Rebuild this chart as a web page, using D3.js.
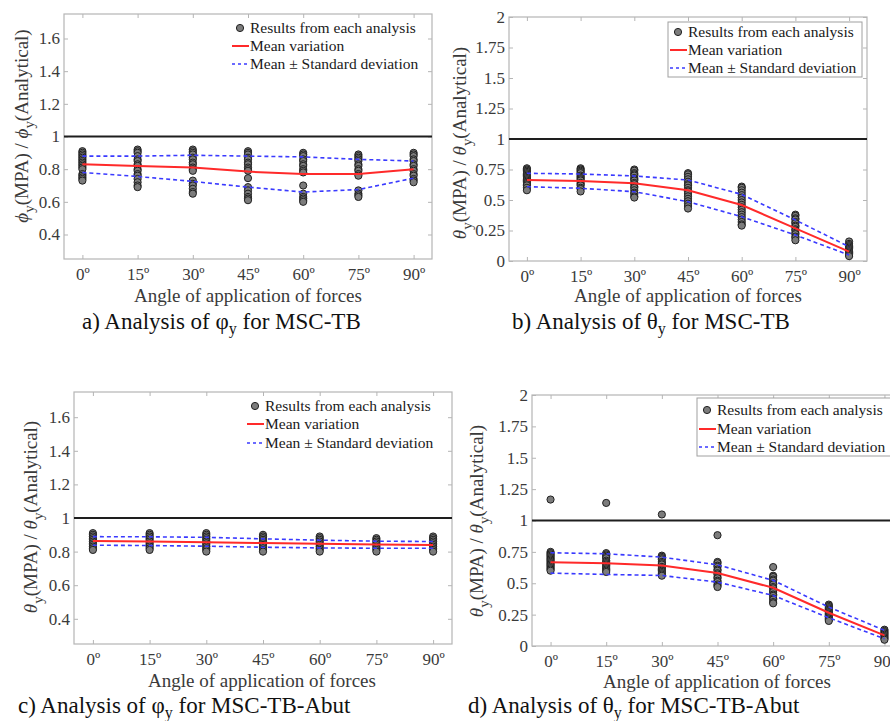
<!DOCTYPE html>
<html>
<head>
<meta charset="utf-8">
<script src="https://cdn.jsdelivr.net/npm/d3@7"></script>
<style>
  body { margin: 0; background: #fff; }
  svg { display: block; }
  svg text { font-family: "Liberation Serif", Tinos, "DejaVu Serif", "Times New Roman", Times, serif !important; }
</style>
</head>
<body>
<svg id="vis" width="890" height="721"></svg>
<script>
// angles of application of forces
const angles = [0, 15, 30, 45, 60, 75, 90];
const angleLabels = ['0º', '15º', '30º', '45º', '60º', '75º', '90º'];
const ticksPhi = [0.4, 0.6, 0.8, 1, 1.2, 1.4, 1.6];
const ticksTheta = [0, 0.25, 0.5, 0.75, 1, 1.25, 1.5, 1.75, 2];

// a) phi_y, MSC-TB
const aPoints = [
    [0.91, 0.90, 0.89, 0.88, 0.87, 0.86, 0.85, 0.84, 0.83, 0.82, 0.81, 0.80, 0.77, 0.76, 0.75, 0.74, 0.73],
    [0.92, 0.91, 0.90, 0.88, 0.86, 0.85, 0.83, 0.82, 0.80, 0.79, 0.77, 0.76, 0.74, 0.72, 0.70, 0.69],
    [0.92, 0.91, 0.90, 0.89, 0.87, 0.86, 0.84, 0.83, 0.81, 0.80, 0.79, 0.73, 0.71, 0.70, 0.68, 0.66, 0.65],
    [0.91, 0.90, 0.89, 0.87, 0.86, 0.84, 0.83, 0.81, 0.80, 0.79, 0.745, 0.69, 0.67, 0.65, 0.63, 0.62, 0.61],
    [0.90, 0.89, 0.88, 0.86, 0.85, 0.83, 0.82, 0.80, 0.79, 0.78, 0.70, 0.65, 0.63, 0.62, 0.61, 0.60],
    [0.89, 0.88, 0.87, 0.86, 0.85, 0.83, 0.82, 0.80, 0.79, 0.77, 0.76, 0.67, 0.65, 0.64, 0.63],
    [0.90, 0.89, 0.88, 0.86, 0.85, 0.83, 0.82, 0.80, 0.79, 0.77, 0.76, 0.74, 0.73, 0.72]
];
const aMean = [0.83, 0.82, 0.81, 0.785, 0.77, 0.77, 0.80];
const aUpper = [0.88, 0.88, 0.885, 0.88, 0.875, 0.86, 0.85];
const aLower = [0.78, 0.755, 0.725, 0.69, 0.66, 0.675, 0.745];

// b) theta_y, MSC-TB
const bPoints = [
    [0.76, 0.75, 0.74, 0.73, 0.72, 0.71, 0.70, 0.69, 0.68, 0.67, 0.66, 0.65, 0.64, 0.63, 0.62, 0.60, 0.58],
    [0.76, 0.75, 0.74, 0.73, 0.72, 0.70, 0.69, 0.68, 0.67, 0.66, 0.64, 0.63, 0.62, 0.60, 0.59, 0.57],
    [0.75, 0.74, 0.72, 0.71, 0.70, 0.68, 0.67, 0.66, 0.64, 0.63, 0.61, 0.60, 0.58, 0.56, 0.55, 0.53, 0.52],
    [0.72, 0.71, 0.69, 0.67, 0.65, 0.63, 0.62, 0.60, 0.58, 0.57, 0.55, 0.53, 0.51, 0.49, 0.47, 0.45, 0.43],
    [0.61, 0.60, 0.58, 0.56, 0.54, 0.52, 0.50, 0.48, 0.46, 0.44, 0.42, 0.40, 0.38, 0.36, 0.34, 0.32, 0.30, 0.29],
    [0.38, 0.37, 0.35, 0.34, 0.32, 0.31, 0.29, 0.28, 0.26, 0.25, 0.23, 0.22, 0.20, 0.19, 0.17],
    [0.16, 0.14, 0.13, 0.12, 0.11, 0.10, 0.09, 0.08, 0.07, 0.06, 0.05, 0.04]
];
const bMean = [0.664, 0.656, 0.637, 0.58, 0.459, 0.268, 0.077];
const bUpper = [0.719, 0.713, 0.697, 0.664, 0.546, 0.336, 0.117];
const bLower = [0.609, 0.596, 0.568, 0.486, 0.363, 0.213, 0.049];

// c) phi_y, MSC-TB-Abut
const cPoints = [
    [0.91, 0.90, 0.89, 0.88, 0.87, 0.86, 0.85, 0.84, 0.83, 0.82, 0.81],
    [0.91, 0.90, 0.89, 0.88, 0.87, 0.86, 0.85, 0.84, 0.83, 0.82, 0.81],
    [0.91, 0.90, 0.89, 0.88, 0.87, 0.86, 0.85, 0.84, 0.83, 0.82, 0.81, 0.80],
    [0.90, 0.89, 0.88, 0.87, 0.86, 0.85, 0.84, 0.83, 0.82, 0.81, 0.80],
    [0.89, 0.88, 0.87, 0.86, 0.85, 0.84, 0.83, 0.82, 0.81, 0.80],
    [0.88, 0.87, 0.86, 0.85, 0.84, 0.83, 0.82, 0.81, 0.80],
    [0.89, 0.88, 0.87, 0.86, 0.85, 0.84, 0.83, 0.82, 0.81, 0.80]
];
const cMean = [0.863, 0.86, 0.856, 0.851, 0.846, 0.842, 0.84];
const cUpper = [0.889, 0.888, 0.885, 0.876, 0.868, 0.862, 0.86];
const cLower = [0.838, 0.836, 0.832, 0.826, 0.822, 0.82, 0.82];

// d) theta_y, MSC-TB-Abut
const dPoints = [
    [1.167, 0.75, 0.74, 0.73, 0.72, 0.71, 0.70, 0.69, 0.68, 0.67, 0.66, 0.65, 0.64, 0.63, 0.62, 0.61, 0.60],
    [1.14, 0.74, 0.73, 0.72, 0.71, 0.70, 0.68, 0.67, 0.66, 0.65, 0.64, 0.63, 0.62, 0.61, 0.60, 0.59],
    [1.048, 0.72, 0.71, 0.70, 0.69, 0.67, 0.66, 0.65, 0.63, 0.62, 0.61, 0.60, 0.59, 0.58, 0.57, 0.56],
    [0.883, 0.67, 0.66, 0.64, 0.63, 0.61, 0.60, 0.58, 0.57, 0.55, 0.54, 0.52, 0.51, 0.49, 0.48, 0.47],
    [0.629, 0.56, 0.55, 0.53, 0.52, 0.50, 0.49, 0.47, 0.46, 0.44, 0.43, 0.41, 0.40, 0.38, 0.37, 0.35, 0.34],
    [0.33, 0.32, 0.31, 0.30, 0.29, 0.28, 0.27, 0.26, 0.25, 0.24, 0.23, 0.22, 0.21, 0.20],
    [0.13, 0.12, 0.11, 0.10, 0.09, 0.08, 0.07, 0.06, 0.05]
];
const dMean = [0.668, 0.66, 0.642, 0.581, 0.464, 0.265, 0.085];
const dUpper = [0.743, 0.735, 0.708, 0.647, 0.523, 0.31, 0.125];
const dLower = [0.581, 0.57, 0.562, 0.509, 0.403, 0.225, 0.058];

const legendLabels = ['Results from each analysis', 'Mean variation', 'Mean \u00b1 Standard deviation'];

const svg = d3.select('#vis');

function drawPanel(cfg) {
    var g = svg.append('g');

    var xScale = d3.scaleLinear()
        .domain([-5, 95])
        .range([cfg.left, cfg.right]);

    var yScale = d3.scaleLinear()
        .domain(cfg.yDomain)
        .range([cfg.bottom, cfg.top]);

    // box
    g.append('rect')
        .attr('x', cfg.left)
        .attr('y', cfg.top)
        .attr('width', cfg.right - cfg.left)
        .attr('height', cfg.bottom - cfg.top)
        .attr('fill', 'none')
        .attr('stroke', '#b5b5b5')
        .attr('stroke-width', 1.2);

    // inner ticks on all sides
    var axes = [
        [d3.axisBottom(xScale).tickValues(angles).tickFormat((d, i) => angleLabels[i]).tickPadding(9), 'translate(0,' + cfg.bottom + ')'],
        [d3.axisTop(xScale).tickValues(angles).tickFormat(''), 'translate(0,' + cfg.top + ')'],
        [d3.axisLeft(yScale).tickValues(cfg.yTicks).tickFormat(d3.format('~g')).tickPadding(4), 'translate(' + cfg.left + ',0)'],
        [d3.axisRight(yScale).tickValues(cfg.yTicks).tickFormat(''), 'translate(' + cfg.right + ',0)']
    ];
    axes.forEach((a) => {
        var ax = g.append('g')
            .attr('transform', a[1])
            .call(a[0].tickSizeInner(-4).tickSizeOuter(0))
            .attr('font-family', null)
            .attr('font-size', null);
        ax.select('.domain').remove();
        ax.selectAll('line').attr('stroke', '#b5b5b5');
        ax.selectAll('text')
            .attr('font-size', '17px')
            .attr('fill', '#3a3a3a');
    });

    // reference line at 1
    g.append('line')
        .attr('x1', cfg.left)
        .attr('x2', cfg.right)
        .attr('y1', yScale(1))
        .attr('y2', yScale(1))
        .attr('stroke', '#1e1e1e')
        .attr('stroke-width', 2);

    // results from each analysis
    var flat = [];
    cfg.points.forEach((col, i) => col.forEach((v) => flat.push({ a: angles[i], v: v })));
    g.selectAll('circle.pt')
        .data(flat)
        .enter()
        .append('circle')
        .attr('class', 'pt')
        .attr('cx', (d) => xScale(d.a))
        .attr('cy', (d) => yScale(d.v))
        .attr('r', 3.6)
        .attr('fill', '#7c7c7c')
        .attr('stroke', '#202020')
        .attr('stroke-width', 1);

    var line = d3.line()
        .x((d, i) => xScale(angles[i]))
        .y((d) => yScale(d));

    [cfg.upper, cfg.lower].forEach((s) => {
        g.append('path')
            .attr('d', line(s))
            .attr('fill', 'none')
            .attr('stroke', '#3a3aff')
            .attr('stroke-width', 1.6)
            .attr('stroke-dasharray', '4,3');
    });

    g.append('path')
        .attr('d', line(cfg.mean))
        .attr('fill', 'none')
        .attr('stroke', '#ff2a2a')
        .attr('stroke-width', 2);

    // legend
    var lg = cfg.legend;
    if (lg.box) {
        g.append('rect')
            .attr('x', lg.box[0])
            .attr('y', lg.box[1])
            .attr('width', lg.box[2])
            .attr('height', lg.box[3])
            .attr('fill', '#fff')
            .attr('stroke', '#a0a0a0')
            .attr('stroke-width', 1);
    }
    g.append('circle')
        .attr('cx', lg.x - 10)
        .attr('cy', lg.rows[0])
        .attr('r', 3.6)
        .attr('fill', '#7c7c7c')
        .attr('stroke', '#202020');
    g.append('line')
        .attr('x1', lg.x - 18).attr('x2', lg.x - 1)
        .attr('y1', lg.rows[1]).attr('y2', lg.rows[1])
        .attr('stroke', '#ff2a2a').attr('stroke-width', 2);
    g.append('line')
        .attr('x1', lg.x - 18).attr('x2', lg.x - 1)
        .attr('y1', lg.rows[2]).attr('y2', lg.rows[2])
        .attr('stroke', '#3a3aff').attr('stroke-width', 1.4)
        .attr('stroke-dasharray', '3,3');
    legendLabels.forEach((t, i) => {
        g.append('text')
            .attr('x', lg.x)
            .attr('y', lg.rows[i])
            .attr('dy', '0.35em')
            .attr('font-size', '15.5px')
            .attr('fill', '#1a1a1a')
            .text(t);
    });

    // x label
    g.append('text')
        .attr('x', cfg.xLabel[0])
        .attr('y', cfg.xLabel[1])
        .attr('font-size', '19px')
        .attr('text-anchor', 'middle')
        .attr('fill', '#3a3a3a')
        .text('Angle of application of forces');

    // y label with subscripts
    var yl = g.append('text')
        .attr('transform', 'translate(' + cfg.yLabel[0] + ',' + cfg.yLabel[1] + ') rotate(-90)')
        .attr('font-size', '19px')
        .attr('text-anchor', 'middle')
        .attr('fill', '#3a3a3a');
    yl.append('tspan').attr('font-style', 'italic').text(cfg.sym);
    yl.append('tspan').attr('dy', 6).attr('font-size', '15px').text('y');
    yl.append('tspan').attr('dy', -6).text('(MPA) / ');
    yl.append('tspan').attr('font-style', 'italic').text(cfg.sym);
    yl.append('tspan').attr('dy', 6).attr('font-size', '15px').text('y');
    yl.append('tspan').attr('dy', -6).text('(Analytical)');

    // caption
    var cap = g.append('text')
        .attr('x', cfg.caption[0])
        .attr('y', cfg.caption[1])
        .attr('font-size', '23px')
        .attr('fill', '#111');
    cap.append('tspan').text(cfg.capText[0]);
    cap.append('tspan').attr('dy', 5).attr('font-size', '16px').text('y');
    cap.append('tspan').attr('dy', -5).text(cfg.capText[1]);
}

drawPanel({
    left: 64, right: 432, top: 14, bottom: 259,
    yDomain: [0.25, 1.75], yTicks: ticksPhi,
    points: aPoints, mean: aMean, upper: aUpper, lower: aLower,
    legend: { x: 250, rows: [28, 46, 64] },
    xLabel: [248, 302], yLabel: [28, 126], sym: '\u03d5',
    caption: [82, 329], capText: ['a) Analysis of \u03c6', ' for MSC-TB']
});

drawPanel({
    left: 509, right: 867, top: 17, bottom: 261,
    yDomain: [0, 2], yTicks: ticksTheta,
    points: bPoints, mean: bMean, upper: bUpper, lower: bLower,
    legend: { x: 688, rows: [32, 50, 68], box: [668, 22, 194, 55] },
    xLabel: [688, 302], yLabel: [466, 143], sym: '\u03b8',
    caption: [512, 329], capText: ['b) Analysis of \u03b8', ' for MSC-TB']
});

drawPanel({
    left: 74, right: 452, top: 392, bottom: 644,
    yDomain: [0.25, 1.75], yTicks: ticksPhi,
    points: cPoints, mean: cMean, upper: cUpper, lower: cLower,
    legend: { x: 265, rows: [406, 424, 443] },
    xLabel: [262, 687], yLabel: [37, 517], sym: '\u03b8',
    caption: [18, 713], capText: ['c) Analysis of \u03c6', ' for MSC-TB-Abut']
});

drawPanel({
    left: 532, right: 903, top: 395, bottom: 646,
    yDomain: [0, 2], yTicks: ticksTheta,
    points: dPoints, mean: dMean, upper: dUpper, lower: dLower,
    legend: { x: 717, rows: [410, 429, 447], box: [697, 398, 220, 58] },
    xLabel: [717, 688], yLabel: [483, 521], sym: '\u03b8',
    caption: [468, 713], capText: ['d) Analysis of \u03b8', ' for MSC-TB-Abut']
});
</script>
</body>
</html>
